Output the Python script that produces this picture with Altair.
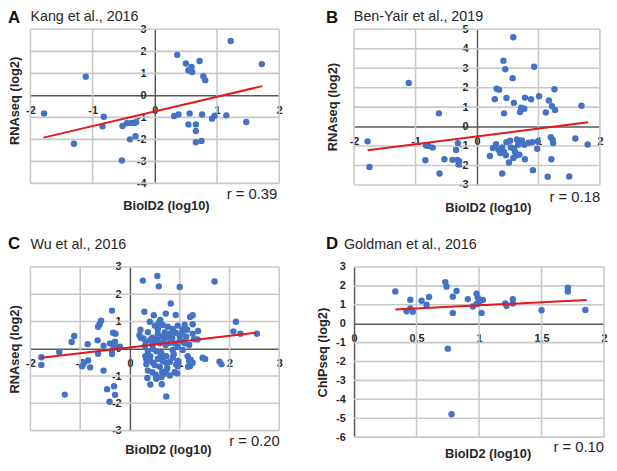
import altair as alt
import pandas as pd

FONT = "Liberation Sans"
BLUE = "#4472C4"
RED = "#E3191C"
TXT = "#262626"
GRID = "#C8C8C8"

# ---------------- Panel A: Kang et al., 2016 ----------------
a_x = [-1.78, -1.30, -1.11, -0.82, -0.84, -0.52, -0.45, -0.38, -0.33, -0.30, -0.40, -0.31, -0.53,
       0.36, 0.50, 0.54, 0.59, 0.60, 0.72, 0.78, 0.81, 1.22, 1.72,
       0.31, 0.38, 0.56, 0.76, 0.54, 0.66, 0.66, 0.66, 0.75, 0.92, 0.96, 1.15, 1.47]
a_y = [-0.82, -2.20, 0.85, -0.97, -1.41, -1.39, -1.27, -1.26, -1.26, -1.21, -2.00, -1.86, -2.96,
       1.84, 1.45, 1.14, 1.29, 1.06, 1.56, 0.87, 0.69, 2.47, 1.42,
       -0.94, -0.87, -0.82, -0.87, -1.32, -1.32, -1.62, -2.13, -2.07, -1.06, -0.93, -0.91, -1.21]
a_line_x = [-1.79, 1.73]
a_line_y = [-1.92, 0.42]

# ---------------- Panel B: Ben-Yair et al., 2019 ----------------
b_x = [-1.78, -1.75, -1.11, -0.62, -0.83, -0.79, -0.72, -0.84, -0.61, -0.53, -0.40, -0.32, -0.31, -0.34, -0.30, -0.29,
       0.43, 0.46, 0.59, 0.58, 0.93, 0.32, 0.36, 0.29, 0.48, 0.60, 0.44, 0.78, 0.88, 1.01, 0.72, 0.77, 0.70,
       1.26, 1.17, 1.22, 1.27, 1.12, 1.70,
       0.21, 0.26, 0.31, 0.35, 0.38, 0.41, 0.44, 0.48, 0.52, 0.47, 0.54, 0.60, 0.65, 0.67, 0.64, 0.69, 0.73,
       0.78, 0.77, 0.84, 0.90, 0.98, 0.99, 0.41, 0.91, 1.15, 1.21, 1.20, 1.23, 1.24, 1.60, 1.80, 1.50,
       0.59, 0.62, 0.55]
b_y = [-0.76, -2.08, 2.24, 0.68, -0.97, -1.00, -1.08, -1.73, -2.41, -1.68, -1.71, -1.71, -0.85, -1.20, -1.95, -1.78,
       3.39, 2.95, 4.59, 2.49, 3.08, 1.95, 1.90, 1.41, 1.47, 1.22, 0.68, 1.49, 1.41, 1.56, 0.97, 0.92, 0.75,
       1.92, 1.34, 1.05, 0.85, 0.73, 1.07,
       -1.51, -1.10, -0.90, -1.19, -1.36, -1.07, -1.31, -0.80, -1.85, -1.47, -0.73, -1.14, -0.66, -0.93, -1.49, -1.44, -0.71,
       -1.68, -0.93, -0.83, -0.80, -1.14, -0.76, -2.41, -2.24, -2.58, -1.68, -0.54, -0.68, -0.85, -0.61, -0.92, -2.56,
       -1.61, -1.31, -1.07]
b_line_x = [-1.78, 1.81]
b_line_y = [-1.22, 0.22]

# ---------------- Panel C: Wu et al., 2016 ----------------
c_x = [-1.78, -1.78, -1.42, -1.12, -1.17, -1.31, -0.96, -0.92, -0.84, -0.80, -0.85, -0.65, -0.58, -0.61, -0.64,
       -0.64, -0.53, -0.53, -0.46, -0.41, -0.36, -0.34, -0.29, -0.40, -0.36, -0.30, -0.32, -0.30, -0.33, -0.20, -0.36,
       0.26, 0.55, 0.58, 1.00, 1.70, 0.82, 0.29, 0.48, 0.72, 0.92, 1.21, 1.26, 2.13, 2.08, 2.22, 2.55, 1.26, 1.37,
       1.46, 1.51, 1.80, 1.84,
       0.21, 0.22, 0.19, 0.33, 0.31, 0.36, 0.35, 0.41, 0.40, 0.50, 0.61, 0.66, 0.76, 0.45, 0.56, 0.66, 0.80, 0.92,
       1.00, 1.10, 1.06, 1.13, 1.26, 1.29, 1.36, 1.19, 1.06, 0.96, 0.90, 0.80, 0.72, 0.60, 0.50, 0.41, 0.32, 0.27,
       0.36, 0.53, 0.63, 0.73, 0.86, 0.96, 1.06, 1.16, 1.19, 1.21, 1.26, 1.17, 0.93, 0.80, 0.66, 0.56, 0.46, 0.41,
       0.46, 0.36, 0.63, 0.53, 0.68, 0.73, 0.80, 0.90, 0.64, 0.73, 0.96, 0.60, 0.45, 0.73, 0.86, 0.68, 0.76, 0.56,
       0.96, 0.86, 0.33, 1.10,
       0.30, 0.45, 0.55, 0.70, 0.85, 1.00, 0.62, 0.50, 0.75, 0.88, 1.05, 0.40, 0.58, 0.65, 0.52, 0.95, 1.15, 1.22]
c_y = [-0.31, -0.59, -0.12, 0.47, 0.25, -1.68, -0.64, -0.51, -0.43, -0.68, 0.17, 0.31, 1.03, 0.90, 0.81,
       -0.18, 0.11, -0.80, -1.48, -1.94, 1.40, 0.59, 0.55, 0.20, -0.07, 0.26, -1.37, -1.69, 0.07, 0.08, -0.19,
       2.50, 2.67, 2.29, 2.27, 2.47, 1.66, 1.36, 1.23, 1.29, 1.24, 1.17, 1.23, 0.99, 0.64, 0.55, 0.55, 0.90, 0.65,
       -0.33, -0.37, -0.47, -0.57,
       0.70, 0.40, 0.50, -0.39, -0.27, -0.80, -1.07, -1.31, 0.99, 0.85, 1.06, 0.87, 0.81, 0.41, 0.55, 0.44, 0.55, 0.59,
       0.47, 0.87, 0.71, 0.44, 0.55, 0.35, 0.34, 0.14, 0.26, 0.08, 0.20, 0.22, 0.14, 0.20, 0.26, 0.32, 0.26, 0.38,
       0.61, -0.09, -0.15, -0.27, -0.33, -0.45, -0.04, -0.27, -0.45, -0.63, -0.51, -0.66, -0.57, -0.48, -0.45, -0.37, -0.51, -0.27,
       0.00, -0.09, -1.04, -1.10, -0.92, -0.80, -0.98, -0.86, -1.30, -1.75, -0.64, -0.66, -0.86, -0.51, -0.04, 0.32, 0.44, 0.73,
       0.85, 0.73, -0.57, 0.20,
       0.10, 0.15, 0.35, 0.60, 0.40, 0.30, -0.25, -0.60, -0.70, -0.20, 0.60, -0.40, 0.95, -0.85, -0.95, -0.90, 0.70, -0.40]
c_line_x = [-1.78, 2.53]
c_line_y = [-0.33, 0.59]

# ---------------- Panel D: Goldman et al., 2016 ----------------
d_x = [0.33, 0.45, 0.45, 0.42, 0.47, 0.54, 0.58, 0.60, 0.73, 0.74, 0.79, 0.82, 0.79, 0.75, 0.78,
       0.91, 0.95, 0.98, 0.99, 1.00, 0.98, 1.03, 1.02, 1.21, 1.22, 1.27, 1.27, 1.50, 1.71, 1.71, 1.85]
d_y = [1.70, 1.27, 0.80, 0.66, 0.63, 1.21, 1.00, 1.41, 2.20, 1.96, 1.43, 1.73, 0.57, -1.32, -4.79,
       1.30, 0.91, 1.59, 1.38, 1.16, 1.04, 1.25, 0.57, 1.07, 0.95, 1.30, 1.07, 0.71, 1.91, 1.70, 0.73]
d_line_x = [0.33, 1.86]
d_line_y = [0.75, 1.25]


def panel(xs, ys, lx, ly, xdom, ydom, xticks, yticks, W, H, ytitle, letter, study, rtext, pos):
    px0 = (0 - xdom[0]) / (xdom[1] - xdom[0]) * W
    py0 = (ydom[1] - 0) / (ydom[1] - ydom[0]) * H
    common = dict(grid=False, labelOverlap=False, labelFlush=False, ticks=False, tickSize=0,
                  tickCount=40, labelPadding=9, labelExpr="'' + datum.value")
    xaxis = alt.Axis(values=xticks, offset=-(H - py0),
                     title="BioID2 (log10)", titleX=pos["xt_x"], titleY=H + pos["xt_dy"] - py0,
                     titleAlign="center", titleBaseline="alphabetic", titleAngle=0, **common)
    yaxis = alt.Axis(values=yticks, offset=-px0,
                     title=ytitle, titleX=pos["yt_x"] - px0, titleY=pos["yt_y"],
                     titleAlign="center", titleBaseline="middle", titleAngle=270, **common)
    xs_ = alt.Scale(domain=xdom, nice=False, zero=False)
    ys_ = alt.Scale(domain=ydom, nice=False, zero=False)
    # light gridlines at every tick (the zero lines are the axis lines)
    vgrid = alt.Chart(pd.DataFrame({"x": [v for v in xticks if v != 0]})).mark_rule(
        color=GRID, strokeWidth=1.6).encode(x=alt.X("x:Q", scale=xs_, axis=xaxis),
                                            y=alt.value(0), y2=alt.value(H))
    hgrid = alt.Chart(pd.DataFrame({"y": [v for v in yticks if v != 0]})).mark_rule(
        color=GRID, strokeWidth=1.6).encode(y=alt.Y("y:Q", scale=ys_, axis=yaxis),
                                            x=alt.value(0), x2=alt.value(W))
    pts = alt.Chart(pd.DataFrame({"x": xs, "y": ys})).mark_circle(
        size=42, color=BLUE, opacity=1).encode(
        x=alt.X("x:Q", scale=xs_, axis=xaxis),
        y=alt.Y("y:Q", scale=ys_, axis=yaxis))
    line = alt.Chart(pd.DataFrame({"x": lx, "y": ly})).mark_line(
        color=RED, strokeWidth=2).encode(x="x:Q", y="y:Q")
    let = alt.Chart(pd.DataFrame({"t": [letter]})).mark_text(
        font=FONT, fontSize=17, fontWeight="bold", color="#111111", align="left", baseline="alphabetic").encode(
        text="t:N", x=alt.value(pos["l_x"]), y=alt.value(pos["l_y"]))
    stu = alt.Chart(pd.DataFrame({"t": [study]})).mark_text(
        font=FONT, fontSize=14.5, color=TXT, align="left", baseline="alphabetic").encode(
        text="t:N", x=alt.value(pos["s_x"]), y=alt.value(pos["s_y"]))
    rr = alt.Chart(pd.DataFrame({"t": [rtext]})).mark_text(
        font=FONT, fontSize=15, color=TXT, align="right", baseline="alphabetic").encode(
        text="t:N", x=alt.value(pos["r_x"]), y=alt.value(H + pos["r_dy"]))
    return alt.layer(vgrid, hgrid, pts, line, let, stu, rr).properties(width=W, height=H)


A = panel(a_x, a_y, a_line_x, a_line_y, [-2, 2], [-4, 3], [-2, -1, 0, 1, 2], list(range(-4, 4)),
          252, 156, "RNAseq (log2)", "A", "Kang et al., 2016", "r = 0.39",
          dict(xt_x=137.3, xt_dy=26.3, yt_x=-16, yt_y=72, l_x=-22.7, l_y=-6, s_x=0, s_y=-8.5,
               r_x=250, r_dy=15.6))
B = panel(b_x, b_y, b_line_x, b_line_y, [-2, 2], [-3, 5], [-2, -1, 0, 1, 2], list(range(-3, 6)),
          249, 157.6, "RNAseq (log2)", "B", "Ben-Yair et al., 2019", "r = 0.18",
          dict(xt_x=135.5, xt_dy=26.7, yt_x=-21.8, yt_y=78.3, l_x=-28.5, l_y=-6, s_x=-0.2, s_y=-8.5,
               r_x=249.2, r_dy=17.4))
C = panel(c_x, c_y, c_line_x, c_line_y, [-2, 3], [-3, 3], [-2, -1, 0, 1, 2, 3], list(range(-3, 4)),
          252, 165.7, "RNAseq (log2)", "C", "Wu et al., 2016", "r = 0.20",
          dict(xt_x=139.3, xt_dy=23.3, yt_x=-16, yt_y=83, l_x=-22.7, l_y=-18, s_x=0, s_y=-18,
               r_x=252.6, r_dy=15.6))
D = panel(d_x, d_y, d_line_x, d_line_y, [0, 2], [-6, 3], [0, 0.5, 1, 1.5, 2], list(range(-6, 4)),
          253.2, 172.3, "ChIPseq (log2)", "D", "Goldman et al., 2016", "r = 0.10",
          dict(xt_x=135.2, xt_dy=20.7, yt_x=-31.8, yt_y=86.3, l_x=-28.5, l_y=-18, s_x=-10.2, s_y=-18,
               r_x=253.2, r_dy=14.7))

chart = alt.concat(A, B, C, D, columns=2, spacing={"row": 82.7, "column": 75.8}, bounds="flush").properties(
    autosize=alt.AutoSizeParams(type="none"),
    padding={"left": 22.7, "top": 18.7, "right": 586, "bottom": 436},
).configure_view(stroke="transparent").configure_axis(
    domainColor="#595959", domainWidth=1.5,
    labelFont=FONT, labelFontSize=11, labelFontWeight="bold", labelColor=TXT,
    titleFont=FONT, titleFontSize=13, titleFontWeight="bold", titleColor=TXT,
)

chart.save("out.html", embed_options={"renderer": "svg", "actions": False})
